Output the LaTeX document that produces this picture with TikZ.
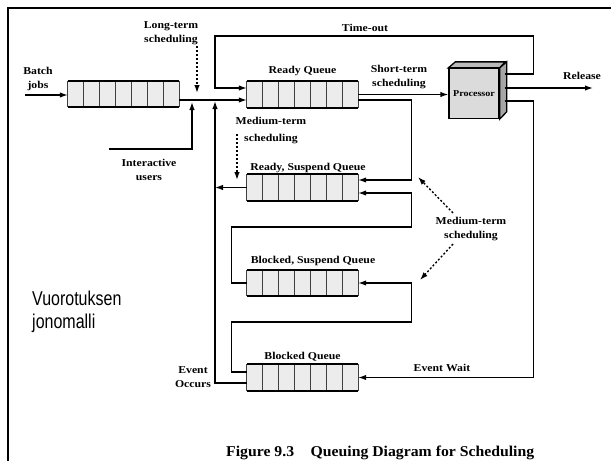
\documentclass[tikz,border=0pt]{standalone}
\usepackage{fontspec}
\setmainfont{Liberation Serif}
\newfontfamily\lblfont{Liberation Serif}[FakeStretch=1.12]
\newfontfamily\capfont{Liberation Serif}[FakeStretch=1.05]
\newfontfamily\notefont{Liberation Sans}[FakeStretch=0.8]
\usetikzlibrary{arrows.meta,calc,positioning}

\tikzset{
  lbl/.style={font=\lblfont\bfseries\fontsize{10.5}{14}\selectfont, align=center, inner sep=0pt},
  queue/.style={minimum width=111pt, minimum height=26pt, inner sep=0pt, fill=gray!15},
  proc/.style={draw, line width=1.3pt, fill=gray!28, minimum size=50pt, inner sep=0pt,
    font=\lblfont\bfseries\fontsize{9}{10}\selectfont},
  flow/.style={line width=1.3pt},
  arr/.style={flow, -{Latex[length=8pt,width=5.5pt]}},
  dotarr/.style={line width=1.4pt, dash pattern=on 2pt off 2pt, -{Latex[length=8pt,width=5.5pt]}},
}

\begin{document}
\begin{tikzpicture}[x=1pt,y=-1pt]
  \useasboundingbox (0,0) rectangle (611,461);
  %frame
  \draw[line width=2.5pt] (8,461) -- (8,8) -- (611,8);

  %queues
  \node[queue] (batchq) at (123.5,94) {};
  \node[queue] (readyq) at (302.5,94.5) {};
  \node[queue] (rsuspq) at (302.5,187.5) {};
  \node[queue] (bsuspq) at (302.5,283) {};
  \node[queue] (blockq) at (302.5,377.5) {};
  \foreach \q in {batchq,readyq,rsuspq,bsuspq,blockq} {
    \foreach \i in {0,...,7}
      \draw[line width=0.8pt, black!75]
        ($(\q.north west)!\i/7!(\q.north east)$) -- ($(\q.south west)!\i/7!(\q.south east)$);
    \draw[line width=2pt] (\q.north west) -- (\q.north east);
    \draw[line width=2pt] (\q.south west) -- (\q.south east);
  }
  \node[lbl, above=5pt of readyq] (readylbl) {Ready Queue};
  \node[lbl, above=1.5pt of rsuspq, xshift=5.5pt] (rsusplbl) {Ready, Suspend Queue};
  \node[lbl, above=3.5pt of bsuspq, xshift=10.5pt] (bsusplbl) {Blocked, Suspend Queue};
  \node[lbl, above=2.5pt of blockq] (blocklbl) {Blocked Queue};

  %processor
  \node[proc] (proc) at (474,93.5) {Processor};
  \draw[flow, fill=gray!55] (proc.north west) -- ++(7,-6) -- ++(50,0) -- (proc.north east) -- cycle;
  \draw[flow, fill=gray!70] (proc.north east) -- ++(7,-6) -- ++(0,50) -- (proc.south east) -- cycle;

  %labels
  \node[lbl] (batchlbl) at (38,79) {Batch\\jobs};
  \node[lbl] (ltlbl) at (171,33) {Long-term\\scheduling};
  \node[lbl] (iulbl) at (149,170) {Interactive\\users};
  \node[lbl] (toutlbl) at (365,28) {Time-out};
  \node[lbl] (stlbl) at (399,77) {Short-term\\scheduling};
  \node[lbl] (rellbl) at (582,76) {Release};
  \node[lbl, font=\lblfont\bfseries\fontsize{10.5}{17}\selectfont] (mt1lbl) at (271,131) {Medium-term\\scheduling};
  \node[lbl] (mt2lbl) at (471,229) {Medium-term\\scheduling};
  \node[lbl] (evwlbl) at (442,368) {Event Wait};
  \node[lbl] (evolbl) at (193,377) {Event\\Occurs};
  \node[anchor=north west, align=left, inner sep=0pt,
    font=\notefont\fontsize{20}{23}\selectfont] (note) at (32,290.5) {Vuorotuksen\\jonomalli};
  \node[anchor=base west, inner sep=0pt, font=\capfont\bfseries\fontsize{15}{17}\selectfont]
    (caption) at (226,456) {Figure 9.3\hspace{1.1em}Queuing Diagram for Scheduling};

  %end points
  \coordinate (batchin) at (25,95);
  \coordinate (mainy) at (0,100);
  \coordinate (iu) at (109,149);
  \coordinate (iuend) at (192,102);
  \coordinate (evret) at (215,101);
  \coordinate (release) at (593,88);

  %arrivals
  \draw[arr] (batchin) -- (batchq.west |- batchin);
  \draw[arr] (batchq.east |- mainy) -- (readyq.west |- mainy);
  \draw[arr] (iu) -| (iuend);
  \draw[arr] ([yshift=-5.5pt]blockq.west) -| (evret);
  \draw[arr] (rsuspq.west) -- (rsuspq.west -| evret);

  %processor in and out
  \draw[arr] (readyq.east) -- (proc.west |- readyq.east);
  \draw[arr] ([xshift=5pt,yshift=5.5pt]proc.east) -- (release);
  \draw[arr] ([xshift=5pt,yshift=19.5pt]proc.east) -- ++(29,0) |- (215,36)
    |- ([yshift=6.5pt]readyq.west);
  \draw[arr] ([xshift=5pt,yshift=-7.5pt]proc.east) -- ++(29,0) |- (blockq.east);

  %suspend and resume
  \draw[arr] ([yshift=-5.5pt]readyq.east) -- ++(53,0) |- ([yshift=7.5pt]rsuspq.east);
  \draw[arr] (bsuspq.west) -- ++(-15,0) -- ++(0,-56) -- ++(180,0) |- ([yshift=-5.5pt]rsuspq.east);
  \draw[arr] ([yshift=5.5pt]blockq.west) -- ++(-15,0) -- ++(0,-50) -- ++(180,0) |- (bsuspq.east);

  %scheduling hints
  \draw[dotarr] (197,46) -- (197,93);
  \draw[dotarr] (237,134) -- (237,180);
  \draw[dotarr] (453,213) -- (418,177);
  \draw[dotarr] (453,244) -- (420,280);
\end{tikzpicture}
\end{document}
